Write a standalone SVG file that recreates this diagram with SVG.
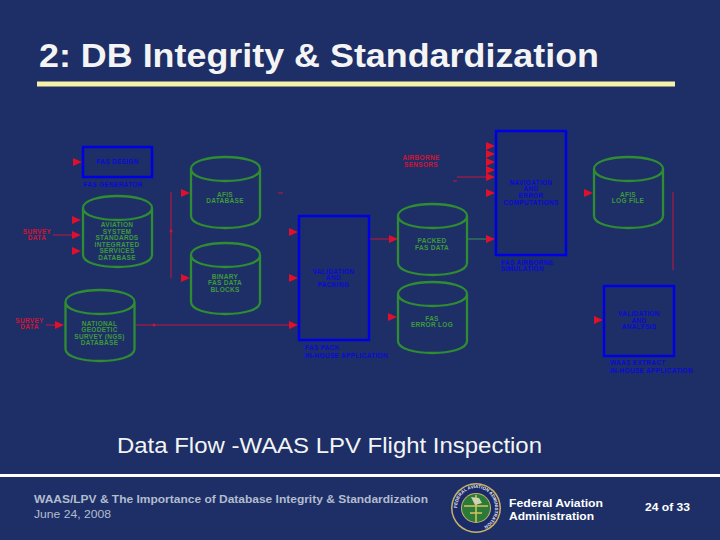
<svg xmlns="http://www.w3.org/2000/svg" width="720" height="540" viewBox="0 0 720 540">
<style>
text{font-family:"Liberation Sans",Arial,sans-serif}
.g,.b,.r{font-size:6.500px;font-weight:bold;text-anchor:middle;letter-spacing:.3px}
.g{fill:#3f9a3c}.b{fill:#0a0ad8}.r{fill:#d01535}
.s{text-anchor:start}
.box{fill:none;stroke:#0000e6;stroke-width:2.500}
.cy{fill:none;stroke:#2f8c33;stroke-width:2.300}
.ln{fill:none;stroke:#c8173a;stroke-width:1}
.ah{fill:#e0102c}
.f{fill:#b3bccf;font-size:11.600px}
.w{fill:#fff;font-size:11px;font-weight:bold}
</style>
<defs>
<path id="a" d="M-9-4 0 0-9 4z"/>
<g id="c"><path class="cy" d="M-34.500 0C-34.500-16 34.500-16 34.500 0C34.500 16-34.500 16-34.500 0V47C-34.500 63 34.500 63 34.500 47V0"/></g>
<path id="tp" d="M457 508a19 20 0 0 1 38 0a19 20 0 0 1-38 0"/>
</defs>
<rect width="720" height="540" fill="#1d2f66"/>
<text x="39" y="67" font-size="33.500" font-weight="bold" fill="#f4f4f4" textLength="560" lengthAdjust="spacingAndGlyphs">2: DB Integrity &amp; Standardization</text>
<rect x="37" y="81.500" width="638" height="5" fill="#f7f2a8"/>
<g id="connectors">
<path class="ln" d="M53 235H74M171 192V278M46 325H56M136 325H290M368 239H390M457 177H487M453 181H457M278 193H283M673 192V270"/>
<path d="M468 239H487" fill="none" stroke="#3f8f50"/>
<circle cx="171" cy="231" r="1.500" fill="#c8173a"/><circle cx="154" cy="325" r="1.500" fill="#c8173a"/>
<g class="ah">
<use href="#a" x="82" y="162"/><use href="#a" x="81" y="220"/><use href="#a" x="81" y="235"/><use href="#a" x="81" y="251"/><use href="#a" x="64" y="325"/>
<use href="#a" x="190" y="193"/><use href="#a" x="190" y="278"/>
<use href="#a" x="298" y="232"/><use href="#a" x="298" y="278"/><use href="#a" x="298" y="325"/>
<use href="#a" x="398" y="239"/><use href="#a" x="397" y="317"/>
<use href="#a" x="495" y="146"/><use href="#a" x="495" y="154"/><use href="#a" x="495" y="162"/><use href="#a" x="495" y="170"/><use href="#a" x="495" y="177"/><use href="#a" x="495" y="193"/><use href="#a" x="495" y="239"/>
<use href="#a" x="593" y="193"/><use href="#a" x="603" y="320"/>
</g>
</g>
<g id="fas-design"><rect class="box" x="83" y="147" width="69" height="30"/><text class="b" x="117.500" y="164">FAS DESIGN</text><text class="b" x="113" y="187">FAS GENERATOR</text></g>
<g id="aviation"><use href="#c" x="117.500" y="208"/><text class="g" x="117" y="227">AVIATION</text><text class="g" x="117" y="234">SYSTEM</text><text class="g" x="117" y="240">STANDARDS</text><text class="g" x="117" y="247">INTEGRATED</text><text class="g" x="117" y="253">SERVICES</text><text class="g" x="117" y="260">DATABASE</text></g>
<g id="afis-db"><use href="#c" x="225.500" y="169"/><text class="g" x="225" y="197">AFIS</text><text class="g" x="225" y="203">DATABASE</text></g>
<g id="binary"><use href="#c" x="225.500" y="255"/><text class="g" x="225" y="279">BINARY</text><text class="g" x="225" y="285">FAS DATA</text><text class="g" x="225" y="292">BLOCKS</text></g>
<g id="ngs"><use href="#c" x="100" y="302"/><text class="g" x="99.500" y="326">NATIONAL</text><text class="g" x="99.500" y="332">GEODETIC</text><text class="g" x="99.500" y="339">SURVEY (NGS)</text><text class="g" x="99.500" y="345">DATABASE</text></g>
<g id="packed"><use href="#c" x="432.500" y="216"/><text class="g" x="432" y="243">PACKED</text><text class="g" x="432" y="250">FAS DATA</text></g>
<g id="errlog"><use href="#c" x="432.500" y="294"/><text class="g" x="432" y="321">FAS</text><text class="g" x="432" y="327">ERROR LOG</text></g>
<g id="afis-log"><use href="#c" x="628.500" y="169"/><text class="g" x="628" y="197">AFIS</text><text class="g" x="628" y="203">LOG FILE</text></g>
<g id="val-pack"><rect class="box" x="299" y="216" width="70" height="124"/><text class="b" x="333.500" y="274">VALIDATION</text><text class="b" x="333.500" y="280">AND</text><text class="b" x="333.500" y="287">PACKING</text><text class="b s" x="305" y="350">FAS PACK</text><text class="b s" x="305" y="357.500">IN-HOUSE APPLICATION</text></g>
<g id="nav"><rect class="box" x="496" y="131" width="70" height="124"/><text class="b" x="531" y="185">NAVIGATION</text><text class="b" x="531" y="191">AND</text><text class="b" x="531" y="198">ERROR</text><text class="b" x="531" y="205">COMPUTATIONS</text><text class="b s" x="501" y="265">FAS AIRBORNE</text><text class="b s" x="501" y="271">SIMULATION</text></g>
<g id="val-an"><rect class="box" x="604" y="286" width="70" height="70"/><text class="b" x="639" y="316">VALIDATION</text><text class="b" x="639" y="323">AND</text><text class="b" x="639" y="329">ANALYSIS</text><text class="b s" x="610" y="365">WAAS EXTRACT</text><text class="b s" x="610" y="373">IN-HOUSE APPLICATION</text></g>
<g id="ext">
<text class="r" x="421" y="160">AIRBORNE</text><text class="r" x="421" y="167">SENSORS</text>
<text class="r" x="37" y="234">SURVEY</text><text class="r" x="37" y="240">DATA</text>
<text class="r" x="29.500" y="323">SURVEY</text><text class="r" x="29.500" y="329">DATA</text>
</g>
<text x="117" y="453" font-size="22.700" fill="#f4f4f4" textLength="425" lengthAdjust="spacingAndGlyphs">Data Flow -WAAS LPV Flight Inspection</text>
<rect y="474" width="720" height="3" fill="#fff"/>
<text class="f" x="34" y="503" font-weight="bold" textLength="394" lengthAdjust="spacingAndGlyphs">WAAS/LPV &amp; The Importance of Database Integrity &amp; Standardization</text>
<text class="f" x="34" y="518" textLength="77" lengthAdjust="spacingAndGlyphs">June 24, 2008</text>
<g id="seal">
<ellipse cx="476" cy="508" rx="25" ry="25" fill="#c9b566"/>
<ellipse cx="476" cy="508" rx="23.500" ry="23.500" fill="#1b2a6b"/>
<ellipse cx="476" cy="508" rx="15" ry="15" fill="#c9b566"/>
<ellipse cx="476" cy="508" rx="14" ry="14" fill="#2c7a3a"/>
<path d="M464 506H488M476 495V522M470 513H482" stroke="#d9c35c" stroke-width="1.500" fill="none"/>
<path d="M471 497l8 1 3 5-7 2z" fill="#cfd3b0"/>
<text font-size="4.500" font-weight="bold" fill="#e8e8e8"><textPath href="#tp">FEDERAL AVIATION ADMINISTRATION</textPath></text>
</g>
<text class="w" x="509" y="506.500" textLength="94" lengthAdjust="spacingAndGlyphs">Federal Aviation</text><text class="w" x="509" y="519.500" textLength="85" lengthAdjust="spacingAndGlyphs">Administration</text>
<text class="w" x="645" y="511" textLength="45" lengthAdjust="spacingAndGlyphs">24 of 33</text>
</svg>
